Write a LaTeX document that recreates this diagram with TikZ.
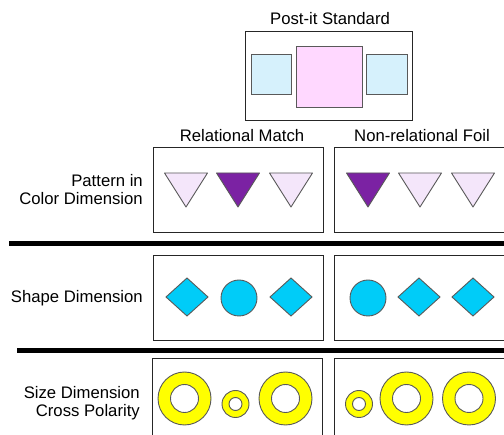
\documentclass[tikz,border=0pt]{standalone}
\usepackage{fontspec}
\setmainfont{Liberation Sans}
\definecolor{lblue}{HTML}{D6F1FC}
\definecolor{lpink}{HTML}{FFD8FF}
\definecolor{lilac}{HTML}{F4E6FA}
\definecolor{dpurple}{HTML}{7B22A3}
\definecolor{cyanf}{HTML}{00CCF8}
\definecolor{ringy}{HTML}{FFFF00}
\begin{document}
\begin{tikzpicture}[x=1pt,y=-1pt,
  font=\fontsize{16.7}{18}\selectfont,
  frame/.style={draw=black!85, line width=1pt},
  shapeline/.style={draw=black!65, line width=0.9pt},
  sep/.style={draw=black, line width=4.5pt},
  lbl/.style={inner sep=0pt, anchor=base east},
  ttl/.style={inner sep=0pt, anchor=base}]
\useasboundingbox (0,0) rectangle (504,435);
% title and post-it standard
\node[ttl] (title) at (330,25) {Post-it Standard};
\draw[frame] (245,32) rectangle (412,121);
\draw[shapeline, fill=lblue] (251,54) rectangle (291,94);
\draw[shapeline, fill=lpink] (296,46) rectangle (362,107);
\draw[shapeline, fill=lblue] (366,54) rectangle (407,94);
% column headings
\node[ttl] (rel) at (242,141.5) {Relational Match};
\node[ttl] (nonrel) at (422,141.5) {Non-relational Foil};
% row labels
\node[lbl] (pat1) at (143,187) {Pattern in};
\node[lbl] (pat2) at (143,205) {Color Dimension};
\node[lbl] (shp) at (143,303) {Shape Dimension};
\node[lbl] (siz1) at (140,399) {Size Dimension};
\node[lbl] (siz2) at (140,417) {Cross Polarity};
% boxes
\draw[frame] (153,148) rectangle (323,233);
\draw[frame] (334,148) rectangle (512,233);
\draw[frame] (153,256) rectangle (323,341);
\draw[frame] (334,256) rectangle (512,341);
\draw[frame] (152,359) rectangle (322,447);
\draw[frame] (334,359) rectangle (512,447);
% separators
\draw[sep] (9,243.5) -- (512,243.5);
\draw[sep] (17,350.5) -- (512,350.5);
% triangles
\foreach \cx/\col in {186/lilac,238/dpurple,291/lilac,368/dpurple,420/lilac,473/lilac}
  \draw[shapeline, fill=\col, line join=round] (\cx-21.5,173) -- (\cx+21.5,173) -- (\cx,207) -- cycle;
% diamonds and circles
\foreach \cx in {187,291,419,473}
  \draw[shapeline, fill=cyanf] (\cx-21,297) -- (\cx,278) -- (\cx+21,297) -- (\cx,316) -- cycle;
\foreach \cx in {239,368}
  \draw[shapeline, fill=cyanf] (\cx,298) circle[radius=18];
% rings
\foreach \cx in {184.5,285.5,406.5,469}
  \draw[shapeline, fill=ringy, even odd rule] (\cx,398.5) circle[radius=26.5] (\cx,398.5) circle[radius=14];
\foreach \cx in {235.5,359}
  \draw[shapeline, fill=ringy, even odd rule] (\cx,404) circle[radius=13.5] (\cx,404) circle[radius=6.5];
\end{tikzpicture}
\end{document}
